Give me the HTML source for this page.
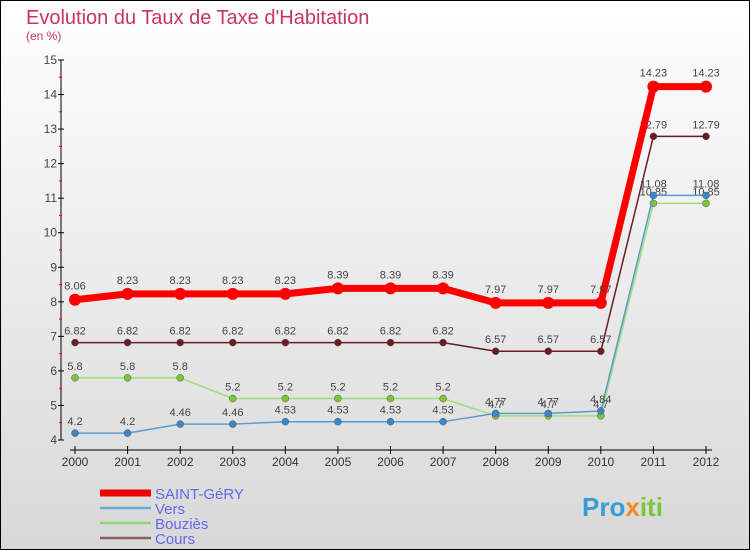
<!DOCTYPE html>
<html><head><meta charset="utf-8"><style>
body{margin:0}
#c{width:750px;height:550px;position:relative;overflow:hidden;font-family:"Liberation Sans",sans-serif}
</style></head><body>
<div id="c">
<svg id="s" width="750" height="550" xmlns="http://www.w3.org/2000/svg">
<defs><linearGradient id="bg" x1="0" y1="0" x2="0" y2="1"><stop offset="0" stop-color="#ffffff"/><stop offset="1" stop-color="#d8d8d8"/></linearGradient></defs>
<rect x="0.5" y="0.5" width="749" height="549" fill="url(#bg)" stroke="#000"/>
<text x="26" y="24" font-size="20" fill="#c8336a">Evolution du Taux de Taxe d'Habitation</text>
<text x="26" y="40" font-size="12" fill="#c8336a">(en %)</text>
<g id="axes"></g><g id="series"></g><g id="legend"></g>
<text x="582" y="516" font-size="26" font-weight="bold" fill="#3a9bd5">Pro<tspan fill="#f08a1c">x</tspan><tspan fill="#7cc63a">iti</tspan></text>
</svg>
</div>
<script>
const years=["2000","2001","2002","2003","2004","2005","2006","2007","2008","2009","2010","2011","2012"];
const yTicks=[4,5,6,7,8,9,10,11,12,13,14,15];
const saintGery=[8.06,8.23,8.23,8.23,8.23,8.39,8.39,8.39,7.97,7.97,7.97,14.23,14.23];
const vers=[4.2,4.2,4.46,4.46,4.53,4.53,4.53,4.53,4.77,4.77,4.84,11.08,11.08];
const bouzies=[5.8,5.8,5.8,5.2,5.2,5.2,5.2,5.2,4.7,4.7,4.7,10.85,10.85];
const cours=[6.82,6.82,6.82,6.82,6.82,6.82,6.82,6.82,6.57,6.57,6.57,12.79,12.79];
const NS="http://www.w3.org/2000/svg";
const X=i=>75+i*(706-75)/(years.length-1);
const Y=v=>440-(v-4)*(380/11);
function mk(p,t,a){const e=document.createElementNS(NS,t);for(const k in a)e.setAttribute(k,a[k]);p.appendChild(e);return e;}
const ax=document.getElementById('axes');
let l=mk(ax,'line',{x1:61,y1:Y(15),x2:61,y2:440,stroke:'#000'});


l=mk(ax,'line',{x1:70,y1:450,x2:712,y2:450,stroke:'#000'});


yTicks.forEach(v=>{
 mk(ax,'line',{x1:58,y1:Y(v),x2:64,y2:Y(v),stroke:'#000'});
 if(v<15)mk(ax,'line',{x1:59,y1:Y(v+0.5),x2:62,y2:Y(v+0.5),stroke:'#e00'});
 const t=mk(ax,'text',{x:57,y:Y(v)+4,'font-size':12,fill:'#444','text-anchor':'end'});
 t.textContent=v;
 
 
});
years.forEach((y,i)=>{
 mk(ax,'line',{x1:X(i),y1:446,x2:X(i),y2:454,stroke:'#000'});
 const t=mk(ax,'text',{x:X(i),y:466,'font-size':12,fill:'#333','text-anchor':'middle'});
 t.textContent=y;
 
 
});
const S=[
 {n:'Cours',d:cours,c:'#6b1c22',w:1.5,r:3.5,lab:-8,lc:'#915e5e'},
 {n:'Bouziès',d:bouzies,c:'#99e07a',w:1.5,r:3.5,lab:-8,dot:'#7cc63a',lc:'#8fd870'},
 {n:'Vers',d:vers,c:'#5b9bd0',w:1.5,r:3.5,lab:-8,dot:'#3a87c8',lc:'#6fa8d8'},
 {n:'SAINT-GéRY',d:saintGery,c:'#ff0000',w:7,r:6,lab:-10,dot:'#ff0000',lc:'#ee0000'}
];
const sg=document.getElementById('series');
S.forEach(s=>{
 const g=mk(sg,'g',{});
 
 
 const p=mk(g,'polyline',{points:s.d.map((v,i)=>X(i)+','+Y(v)).join(' '),fill:'none',stroke:s.c,'stroke-width':s.w,'stroke-linejoin':'round'});
 
 
 s.d.forEach((v,i)=>{
  const c=mk(g,'circle',{cx:X(i),cy:Y(v),r:s.r,fill:s.dot||s.c,stroke:s.n==='SAINT-GéRY'?'none':'#555','stroke-width':0.5});
  
  
  const t=mk(g,'text',{x:X(i),y:Y(v)+s.lab,'font-size':11,fill:'#444','text-anchor':'middle'});
  t.textContent=v;
  
  
 });
});
const lg=document.getElementById('legend');
[S[3],S[2],S[1],S[0]].forEach((s,i)=>{
 const y=493+i*15;
 const ln=mk(lg,'line',{x1:100,y1:y,x2:151,y2:y,stroke:s.lc,'stroke-width':s.n==='SAINT-GéRY'?7:2.5});
 
 
 const t=mk(lg,'text',{x:155,y:y+6,'font-size':15,fill:'#6666ee'});
 t.textContent=s.n;
 
 
});
</script>
</body></html>
